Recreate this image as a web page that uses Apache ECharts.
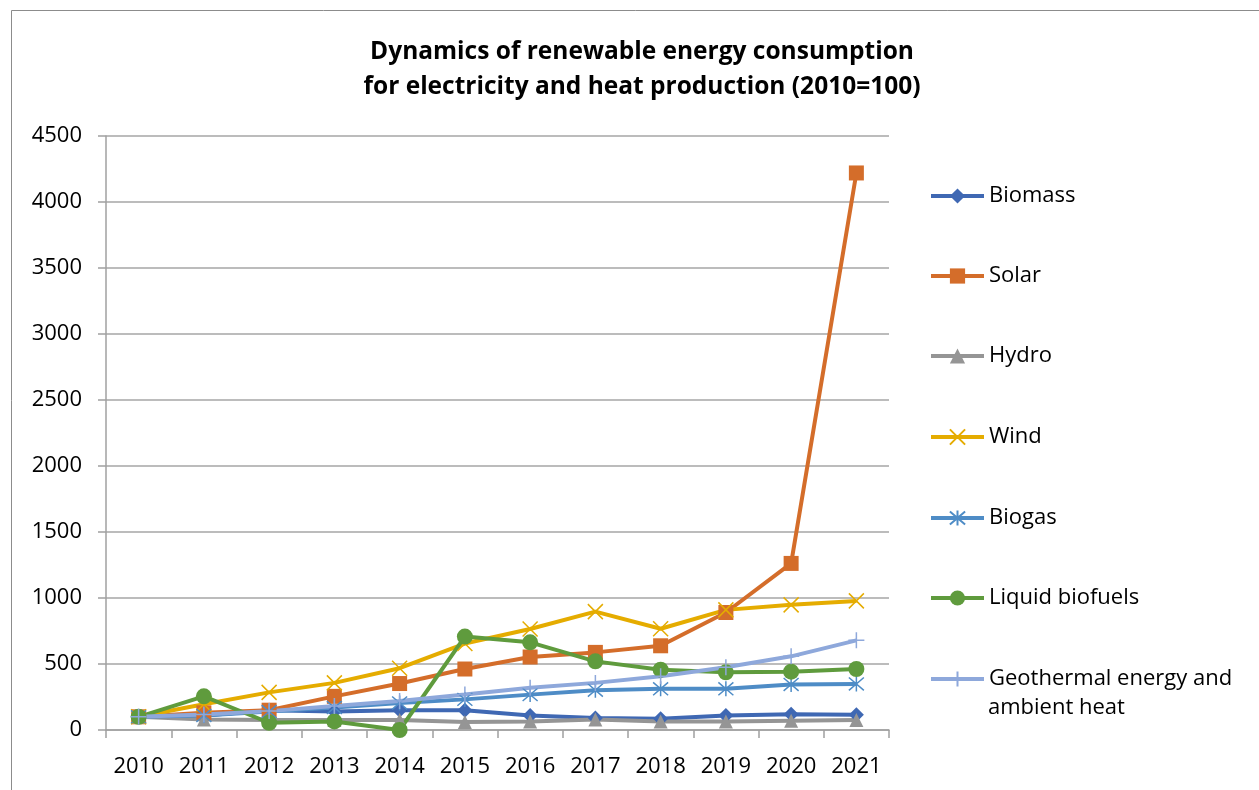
<!DOCTYPE html>
<html>
<head>
<meta charset="utf-8">
<title>Renewable energy consumption</title>
<script src="https://cdn.jsdelivr.net/npm/echarts@6/dist/echarts.min.js"></script>
<style>
  html, body { margin: 0; padding: 0; background: #fff; }
  #chart { width: 1259px; height: 790px; }
</style>
</head>
<body>
<div id="chart"></div>
<script>
// data (index, 2010 = 100)
var years = ["2010", "2011", "2012", "2013", "2014", "2015", "2016", "2017", "2018", "2019", "2020", "2021"];
var biomass = [100, 110, 150, 140, 150, 150, 110, 90, 85, 110, 120, 115];
var solar = [100, 130, 150, 255, 352, 462, 553, 588, 638, 890, 1262, 4220];
var hydro = [100, 80, 75, 75, 75, 60, 65, 80, 65, 65, 70, 75];
var wind = [100, 195, 285, 357, 468, 655, 765, 897, 767, 910, 948, 978];
var biogas = [100, 110, 140, 170, 205, 232, 268, 302, 312, 312, 345, 349];
var liquidBiofuels = [100, 255, 55, 65, 0, 708, 664, 520, 457, 437, 442, 462];
var geothermal = [100, 118, 143, 181, 219, 269, 320, 357, 407, 475, 558, 679];
var yTicks = [0, 500, 1000, 1500, 2000, 2500, 3000, 3500, 4000, 4500];

var seriesNames = ["Biomass", "Solar", "Hydro", "Wind", "Biogas", "Liquid biofuels", "Geothermal energy and ambient heat"];
var seriesData = [biomass, solar, hydro, wind, biogas, liquidBiofuels, geothermal];
var colors = ["#3F68B3", "#D46D2A", "#959595", "#E5AC00", "#4E8CC6", "#5F9B3D", "#8EA8DB"];

var crossPath = "path://M0,0L14,14M14,0L0,14";
var starPath = "path://M7,0L7,14M1,1L13,13M13,1L1,13";
var plusPath = "path://M7,0L7,14M0,7L14,7";
var symbols = ["diamond", "rect", "triangle", crossPath, starPath, "circle", plusPath];
var symbolSizes = [15, 15, 14, 15, 15, 16, 16];
var strokeOnly = [false, false, false, true, true, false, true];

var chart = echarts.init(document.getElementById("chart"));
var fontFamily = "'Open Sans', 'Liberation Sans', sans-serif";

var series = seriesNames.map(function (name, i) {
  return {
    name: name,
    type: "line",
    data: seriesData[i],
    symbol: symbols[i],
    symbolSize: symbolSizes[i],
    showAllSymbol: true,
    animation: false,
    lineStyle: { color: colors[i], width: 4 },
    itemStyle: strokeOnly[i]
      ? { color: "rgba(0,0,0,0)", borderColor: colors[i], borderWidth: 1.5 }
      : { color: colors[i] }
  };
});

// one legend per entry so each row sits where the original puts it
var legendTops = [194, 274, 354, 435, 516, 596, 677];
var legends = seriesNames.map(function (name, i) {
  return {
    data: [name],
    left: 929,
    top: legendTops[i] - 9,
    padding: 0,
    itemWidth: 53,
    itemHeight: 19,
    selectedMode: false,
    lineStyle: { width: 4 },
    formatter: function (n) {
      return n === "Geothermal energy and ambient heat" ? "Geothermal energy and" : n;
    },
    textStyle: { fontFamily: fontFamily, fontSize: 22, color: "#000", lineHeight: 22 }
  };
});

chart.setOption({
  backgroundColor: "#fff",
  color: colors,
  legend: legends,
  grid: { left: 106, top: 136, width: 783, height: 594 },
  xAxis: {
    type: "category",
    data: years,
    boundaryGap: true,
    axisLine: { lineStyle: { color: "#a0a0a0", width: 1.5 } },
    axisTick: { show: true, length: 8, lineStyle: { color: "#a0a0a0", width: 1.5 } },
    axisLabel: { interval: 0, fontFamily: fontFamily, fontSize: 22, color: "#000", margin: 26 }
  },
  yAxis: {
    type: "value",
    min: yTicks[0],
    max: yTicks[yTicks.length - 1],
    interval: 500,
    axisLine: { show: true, lineStyle: { color: "#a0a0a0", width: 1.5 } },
    axisTick: { show: true, length: 8, lineStyle: { color: "#a0a0a0", width: 1.5 } },
    axisLabel: {
      fontFamily: fontFamily, fontSize: 22, color: "#000", margin: 24,
      formatter: function (v) { return String(v); }
    },
    splitLine: { lineStyle: { color: "#a6a6a6", width: 1.5 } }
  },
  graphic: [
    {
      type: "rect",
      silent: true,
      shape: { x: 11.5, y: 10.5, width: 1400, height: 900 },
      style: { fill: "none", stroke: "#8c8c8c", lineWidth: 1 }
    },
    {
      type: "text",
      x: 642,
      y: 35,
      style: {
        text: "Dynamics of renewable energy consumption\nfor electricity and heat production (2010=100)",
        fontFamily: fontFamily,
        fontSize: 24.5,
        fontWeight: "bold",
        lineHeight: 35,
        fill: "#000",
        align: "center",
        verticalAlign: "top"
      }
    },
    {
      type: "text",
      x: 988,
      y: 697,
      style: {
        text: "ambient heat",
        fontFamily: fontFamily,
        fontSize: 22,
        fill: "#000",
        verticalAlign: "top"
      }
    }
  ],
  series: series
});
</script>
</body>
</html>
